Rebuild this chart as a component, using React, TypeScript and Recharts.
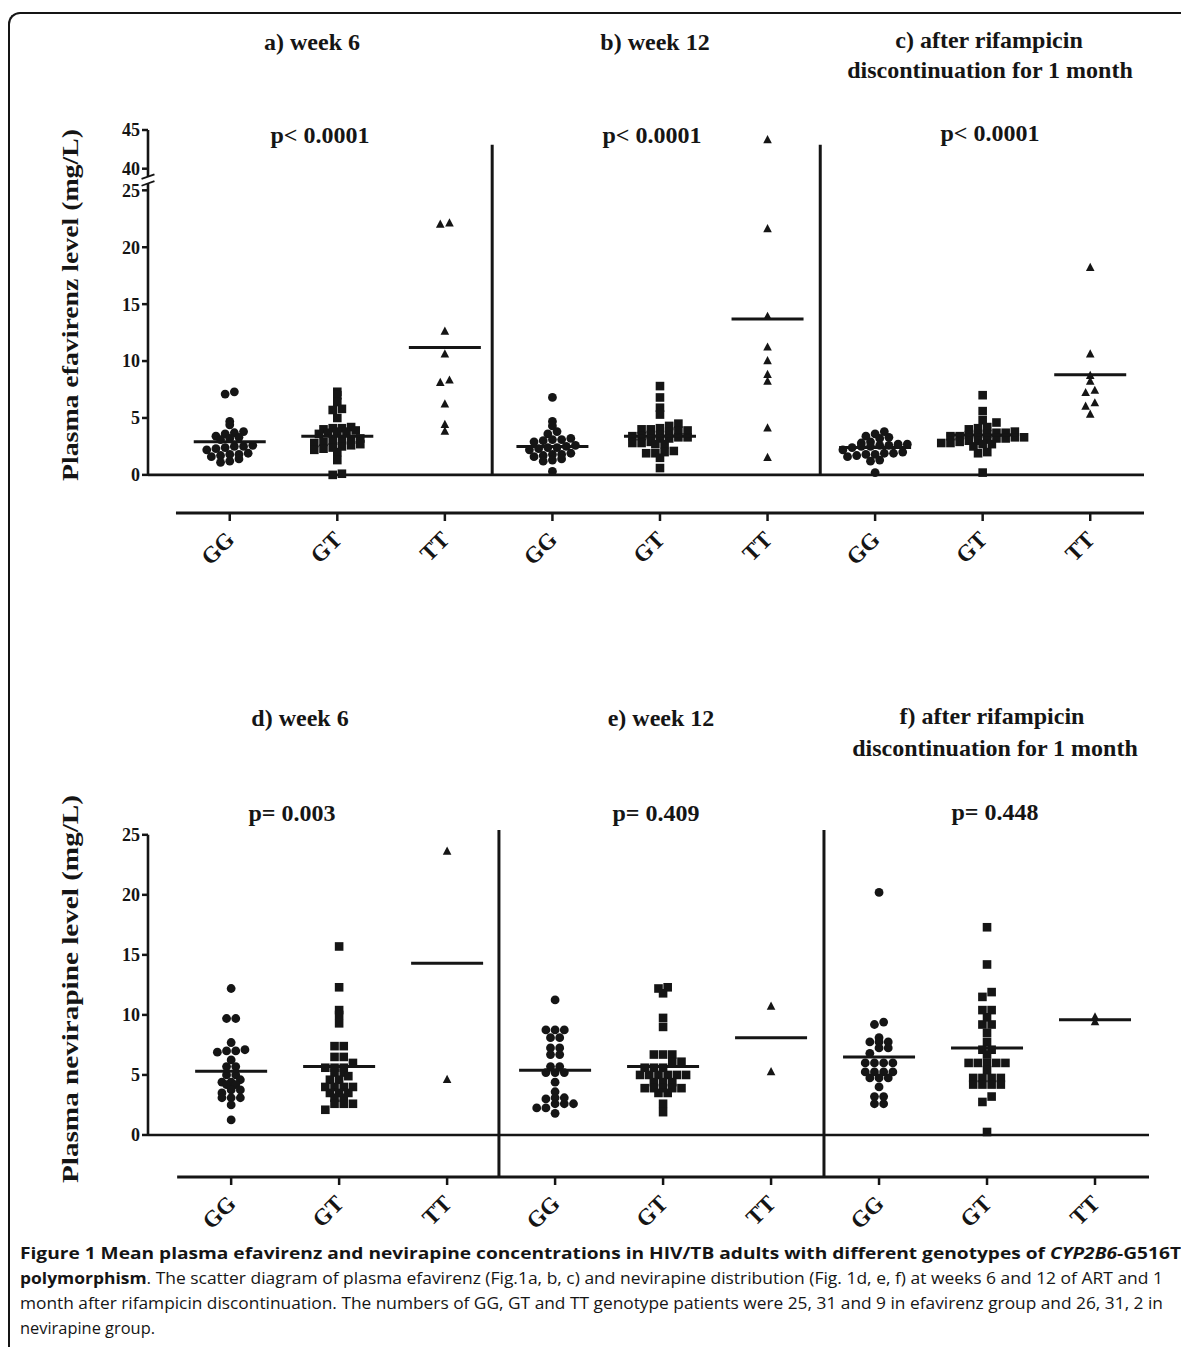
import React from "react";
import { ScatterChart, Scatter, XAxis, YAxis, ReferenceLine } from "recharts";

const genotypes = ["GG", "GT", "TT", "GG", "GT", "TT", "GG", "GT", "TT"];

// plasma efavirenz (mg/L): week 6, week 12, 1 month after rifampicin stop
const efvWk6GG = [7.3, 7.1, 4.7, 4.4, 3.8, 3.7, 3.6, 3.4, 3.3, 3.2, 3.1, 2.6, 2.5, 2.5, 2.4, 2.3, 2.2, 1.9, 1.8, 1.8, 1.7, 1.6, 1.4, 1.2, 1.1];
const efvWk6GT = [7.3, 7.0, 6.4, 5.8, 5.7, 5.0, 4.2, 4.1, 4.1, 4.0, 3.9, 3.8, 3.8, 3.7, 3.6, 3.2, 3.1, 3.0, 3.0, 2.9, 2.8, 2.7, 2.6, 2.5, 2.4, 2.3, 2.2, 2.0, 1.3, 0.1, 0.0];
const efvWk6TT = [22.1, 22.0, 12.6, 10.6, 8.3, 8.1, 6.2, 4.4, 3.8];
const efvWk12GG = [6.8, 4.7, 4.3, 3.8, 3.6, 3.2, 3.1, 3.1, 3.0, 2.9, 2.6, 2.5, 2.4, 2.4, 2.3, 2.2, 1.9, 1.8, 1.8, 1.7, 1.6, 1.4, 1.3, 1.2, 0.3];
const efvWk12GT = [7.8, 6.8, 5.9, 5.3, 4.5, 4.3, 4.1, 4.0, 4.0, 3.9, 3.9, 3.8, 3.5, 3.5, 3.4, 3.4, 3.3, 3.3, 3.2, 3.2, 2.9, 2.8, 2.8, 2.7, 2.7, 2.1, 2.0, 1.9, 1.9, 1.5, 0.6];
const efvWk12TT = [43.7, 21.6, 13.9, 11.2, 10.0, 8.8, 8.2, 4.1, 1.5];
const efvRifGG = [3.8, 3.6, 3.4, 3.3, 3.2, 2.9, 2.8, 2.7, 2.7, 2.6, 2.6, 2.5, 2.5, 2.4, 2.2, 2.0, 1.9, 1.9, 1.8, 1.8, 1.7, 1.6, 1.3, 1.2, 0.2];
const efvRifGT = [7.0, 5.6, 4.8, 4.6, 4.2, 4.1, 4.0, 3.8, 3.7, 3.7, 3.6, 3.6, 3.5, 3.4, 3.4, 3.3, 3.3, 3.2, 3.2, 3.1, 3.0, 3.0, 2.9, 2.8, 2.8, 2.7, 2.7, 2.5, 2.0, 1.9, 0.2];
const efvRifTT = [18.2, 10.6, 8.7, 8.2, 7.4, 7.2, 6.3, 6.0, 5.3];
const efvMeans = [2.9, 3.4, 11.2, 2.5, 3.4, 13.7, 2.4, 3.5, 8.8];
const efvTickValues = [0, 5, 10, 15, 20, 25, 40, 45];

// plasma nevirapine (mg/L)
const nvpWk6GG = [12.2, 9.7, 9.7, 7.7, 7.1, 7.0, 7.0, 6.9, 6.25, 5.7, 5.7, 5.0, 5.0, 4.6, 4.4, 4.4, 4.2, 4.2, 3.75, 3.75, 3.5, 3.1, 3.1, 3.1, 2.5, 1.25];
const nvpWk6GT = [15.7, 12.3, 10.4, 10.0, 9.3, 7.4, 7.4, 6.5, 6.5, 6.0, 5.6, 5.6, 5.6, 5.2, 5.2, 4.9, 4.6, 4.6, 4.0, 4.0, 4.0, 4.0, 3.5, 3.5, 3.5, 3.1, 3.1, 2.6, 2.6, 2.6, 2.1];
const nvpWk6TT = [23.6, 4.6];
const nvpWk12GG = [11.25, 8.75, 8.75, 8.75, 8.1, 8.1, 7.25, 7.25, 6.7, 6.7, 5.7, 5.7, 5.2, 5.2, 5.2, 4.4, 3.6, 3.1, 3.1, 3.0, 2.6, 2.6, 2.6, 2.25, 2.25, 1.8];
const nvpWk12GT = [12.3, 12.2, 11.8, 9.75, 9.0, 6.7, 6.7, 6.7, 6.1, 6.1, 5.6, 5.6, 5.6, 5.0, 5.0, 5.0, 5.0, 5.0, 5.0, 4.4, 4.4, 4.4, 3.9, 3.9, 3.9, 3.9, 3.9, 3.5, 3.5, 2.6, 1.9];
const nvpWk12TT = [10.7, 5.25];
const nvpRifGG = [20.2, 9.4, 9.2, 8.1, 7.75, 7.75, 7.75, 7.25, 7.25, 6.8, 6.0, 6.0, 6.0, 6.0, 5.25, 5.25, 5.25, 5.25, 4.75, 4.75, 4.75, 4.0, 3.2, 3.2, 2.6, 2.6];
const nvpRifGT = [17.3, 14.2, 11.9, 11.5, 10.4, 10.4, 9.8, 9.2, 9.2, 8.5, 7.75, 7.1, 7.1, 6.7, 6.0, 6.0, 6.0, 6.0, 6.0, 5.4, 4.75, 4.75, 4.75, 4.75, 4.2, 4.2, 4.2, 4.2, 3.2, 2.75, 0.25];
const nvpRifTT = [9.8, 9.4];
const nvpMeans = [5.3, 5.7, 14.3, 5.4, 5.7, 8.1, 6.5, 7.25, 9.6];
const nvpTickValues = [0, 5, 10, 15, 20, 25];

const INK = "#151515";
const SERIF = '"Liberation Serif", "Times New Roman", serif';
const SANS = '"Open Sans", "Noto Sans", sans-serif';
const PAGE_W = 1181;
const PLOT_L = 148;

// efavirenz axis is broken between 25 and 40
const efvScale = (v: number) => (v <= 25 ? v : 26.9 + (v - 40) * 0.68);
const linear = (v: number) => v;

// column scatter like Prism: values binned into rows, each row centred on the column
function swarm(vals: number[], pxY: number, pxX: number, d: number, rowH: number) {
  const rows = new Map<number, number[]>();
  vals
    .map((v, i) => i)
    .sort((a, b) => vals[a] - vals[b])
    .forEach((i) => {
      const k = Math.round((vals[i] * pxY) / rowH);
      if (!rows.has(k)) rows.set(k, []);
      rows.get(k)!.push(i);
    });
  const out = new Array(vals.length).fill(0);
  rows.forEach((idx) => {
    idx.forEach((i, j) => {
      out[i] = ((j - (idx.length - 1) / 2) * d) / pxX;
    });
  });
  return out;
}

const circleDot = (p: any) => <circle cx={p.cx} cy={p.cy} r={4.4} fill={INK} />;
const squareDot = (p: any) => <rect x={p.cx - 4.3} y={p.cy - 4.3} width={8.6} height={8.6} fill={INK} />;
const triangleDot = (p: any) => (
  <path d={`M${p.cx},${p.cy - 5} L${p.cx + 4.3},${p.cy + 3.2} L${p.cx - 4.3},${p.cy + 3.2} Z`} fill={INK} />
);
const meanBar = (p: any) => (
  <line x1={p.cx - 36} x2={p.cx + 36} y1={p.cy} y2={p.cy} stroke={INK} strokeWidth={3} />
);

function GenotypeTick(props: any) {
  const { x, y, payload } = props;
  return (
    <text
      transform={`translate(${x + 6},${y + 18}) rotate(-45)`}
      textAnchor="end"
      fontFamily={SERIF}
      fontWeight="bold"
      fontSize={23}
      fill={INK}
    >
      {genotypes[payload.value]}
    </text>
  );
}

type PanelProps = {
  plotTop: number;
  plotH: number;
  right: number;
  xMin: number;
  yMin: number;
  yMax: number;
  scale: (v: number) => number;
  groups: number[][];
  means: number[];
  tickValues: number[];
  seps: number[];
  sepFrom: number;
  sepTo: number;
  axisBreak?: boolean;
};

function Panel(p: PanelProps) {
  const plotW = PAGE_W - p.right - PLOT_L;
  const pxX = plotW / (8.5 - p.xMin);
  const pxY = p.plotH / (p.yMax - p.yMin);
  const sets: { x: number; y: number }[][] = [[], [], []];
  p.groups.forEach((vals, g) => {
    const tv = vals.map(p.scale);
    const off = swarm(tv, pxY, pxX, 9.2, 7);
    tv.forEach((y, i) => sets[g % 3].push({ x: g + off[i], y }));
  });
  const meanData = p.means.map((m, g) => ({ x: g, y: p.scale(m) }));
  const ticks = p.tickValues.map(p.scale);
  const axisTop = ticks[ticks.length - 1];
  const h = p.plotH + 90;
  const line = { stroke: INK, strokeWidth: 2.6, ifOverflow: "visible" as const };

  return (
    <div style={{ position: "absolute", left: 0, top: p.plotTop - 10, width: PAGE_W, height: h }}>
      <ScatterChart width={PAGE_W} height={h} margin={{ top: 10, right: p.right, bottom: 10, left: PLOT_L - 60 }}>
        <XAxis
          type="number"
          dataKey="x"
          domain={[p.xMin, 8.5]}
          allowDataOverflow
          ticks={[0, 1, 2, 3, 4, 5, 6, 7, 8]}
          interval={0}
          axisLine={false}
          tickLine={{ stroke: INK, strokeWidth: 2.5 }}
          tickSize={8}
          height={70}
          tick={(t: any) => <GenotypeTick {...t} />}
        />
        <YAxis
          type="number"
          dataKey="y"
          domain={[p.yMin, p.yMax]}
          allowDataOverflow
          ticks={ticks}
          interval={0}
          width={60}
          axisLine={false}
          tickLine={{ stroke: INK, strokeWidth: 2.5 }}
          tickSize={6}
          tick={{ fontFamily: SERIF, fontWeight: "bold", fontSize: 18, fill: INK }}
          tickFormatter={(v: number) => String(p.tickValues[ticks.indexOf(v)])}
        />
        {p.axisBreak ? (
          <>
            <ReferenceLine segment={[{ x: p.xMin, y: 0 }, { x: p.xMin, y: 25.6 }]} {...line} />
            <ReferenceLine segment={[{ x: p.xMin, y: 26.2 }, { x: p.xMin, y: axisTop }]} {...line} />
            <ReferenceLine segment={[{ x: p.xMin - 0.06, y: 25.4 }, { x: p.xMin + 0.06, y: 25.8 }]} stroke={INK} strokeWidth={1.8} ifOverflow="visible" />
            <ReferenceLine segment={[{ x: p.xMin - 0.06, y: 26.0 }, { x: p.xMin + 0.06, y: 26.4 }]} stroke={INK} strokeWidth={1.8} ifOverflow="visible" />
          </>
        ) : (
          <ReferenceLine segment={[{ x: p.xMin, y: 0 }, { x: p.xMin, y: axisTop }]} {...line} />
        )}
        <ReferenceLine segment={[{ x: p.xMin, y: 0 }, { x: 8.5, y: 0 }]} {...line} />
        <ReferenceLine segment={[{ x: -0.5, y: p.yMin }, { x: 8.5, y: p.yMin }]} stroke={INK} strokeWidth={3} ifOverflow="visible" />
        {p.seps.map((s) => (
          <ReferenceLine key={s} segment={[{ x: s, y: p.sepFrom }, { x: s, y: p.sepTo }]} stroke={INK} strokeWidth={3} ifOverflow="visible" />
        ))}
        <Scatter data={sets[0]} shape={circleDot} isAnimationActive={false} />
        <Scatter data={sets[1]} shape={squareDot} isAnimationActive={false} />
        <Scatter data={sets[2]} shape={triangleDot} isAnimationActive={false} />
        <Scatter data={meanData} shape={meanBar} isAnimationActive={false} />
      </ScatterChart>
    </div>
  );
}

const T = (props: { x: number; y: number; children: React.ReactNode; size?: number; len?: number }) => (
  <text
    x={props.x}
    y={props.y}
    textAnchor="middle"
    dominantBaseline="central"
    fontFamily={SERIF}
    fontWeight="bold"
    fontSize={props.size ?? 24}
    fill={INK}
    {...(props.len ? { textLength: props.len, lengthAdjust: "spacingAndGlyphs" } : {})}
  >
    {props.children}
  </text>
);

export default function App() {
  return (
    <div style={{ position: "absolute", left: 0, top: 0, width: PAGE_W, height: 1347, overflow: "hidden", background: "#fff" }}>
      <div
        style={{
          position: "absolute",
          left: 8,
          top: 12,
          width: 1300,
          height: 1500,
          borderTop: `2px solid ${INK}`,
          borderLeft: `2px solid ${INK}`,
          borderTopLeftRadius: 12,
        }}
      />
      <Panel
        plotTop={130}
        plotH={383}
        right={37}
        xMin={-0.76}
        yMin={-3.35}
        yMax={30.3}
        scale={efvScale}
        groups={[efvWk6GG, efvWk6GT, efvWk6TT, efvWk12GG, efvWk12GT, efvWk12TT, efvRifGG, efvRifGT, efvRifTT]}
        means={efvMeans}
        tickValues={efvTickValues}
        seps={[2.44, 5.49]}
        sepFrom={0}
        sepTo={29.0}
        axisBreak
      />
      <Panel
        plotTop={830}
        plotH={347}
        right={32}
        xMin={-0.77}
        yMin={-3.5}
        yMax={25.4}
        scale={linear}
        groups={[nvpWk6GG, nvpWk6GT, nvpWk6TT, nvpWk12GG, nvpWk12GT, nvpWk12TT, nvpRifGG, nvpRifGT, nvpRifTT]}
        means={nvpMeans}
        tickValues={nvpTickValues}
        seps={[2.48, 5.49]}
        sepFrom={-3.5}
        sepTo={25.4}
      />
      <svg width={PAGE_W} height={1347} style={{ position: "absolute", left: 0, top: 0, pointerEvents: "none" }}>
        <T x={312} y={42}>a) week 6</T>
        <T x={655} y={42}>b) week 12</T>
        <T x={989} y={40}>c) after rifampicin</T>
        <T x={990} y={70}>discontinuation for 1 month</T>
        <T x={320} y={135}>p&lt; 0.0001</T>
        <T x={652} y={135}>p&lt; 0.0001</T>
        <T x={990} y={133}>p&lt; 0.0001</T>

        <T x={300} y={718}>d) week 6</T>
        <T x={661} y={718}>e) week 12</T>
        <T x={992} y={716}>f) after rifampicin</T>
        <T x={995} y={748}>discontinuation for 1 month</T>
        <T x={292} y={813}>p= 0.003</T>
        <T x={656} y={813}>p= 0.409</T>
        <T x={995} y={812}>p= 0.448</T>

        <g transform="translate(70,305) rotate(-90)">
          <T x={0} y={0} size={23} len={352}>Plasma efavirenz level (mg/L)</T>
        </g>
        <g transform="translate(70,989) rotate(-90)">
          <T x={0} y={0} size={23} len={388}>Plasma nevirapine level (mg/L)</T>
        </g>

        <g fontFamily={SANS} fontSize={16.5} fill={INK}>
          <text x={20} y={1259} fontWeight="bold" textLength={1161} lengthAdjust="spacingAndGlyphs">
            {"Figure 1 Mean plasma efavirenz and nevirapine concentrations in HIV/TB adults with different genotypes of "}
            <tspan fontStyle="italic">CYP2B6</tspan>
            {"-G516T"}
          </text>
          <text x={20} y={1284} textLength={1143} lengthAdjust="spacingAndGlyphs">
            <tspan fontWeight="bold">polymorphism</tspan>
            {". The scatter diagram of plasma efavirenz (Fig.1a, b, c) and nevirapine distribution (Fig. 1d, e, f) at weeks 6 and 12 of ART and 1"}
          </text>
          <text x={20} y={1309} textLength={1143} lengthAdjust="spacingAndGlyphs">
            month after rifampicin discontinuation. The numbers of GG, GT and TT genotype patients were 25, 31 and 9 in efavirenz group and 26, 31, 2 in
          </text>
          <text x={20} y={1334} textLength={135} lengthAdjust="spacingAndGlyphs">
            nevirapine group.
          </text>
        </g>
      </svg>
    </div>
  );
}
